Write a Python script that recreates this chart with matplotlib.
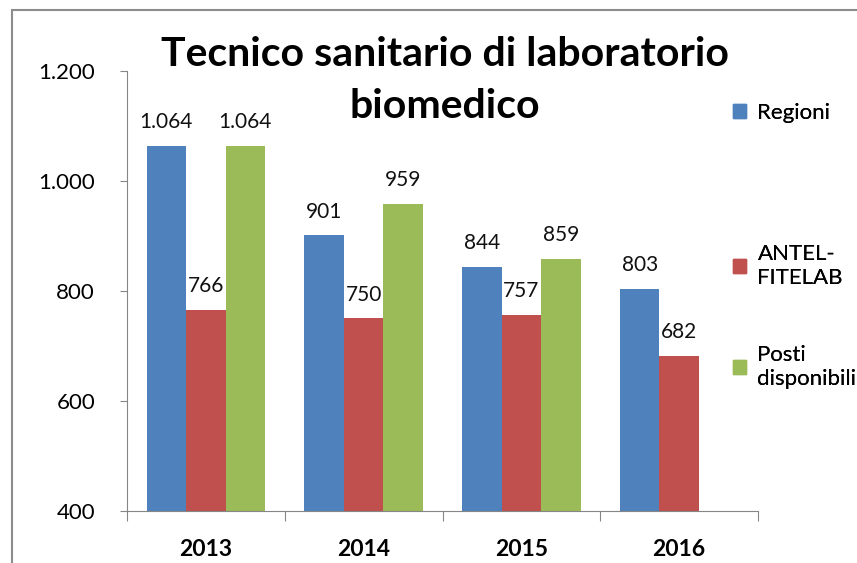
import matplotlib
matplotlib.use("Agg")
import matplotlib.pyplot as plt
from matplotlib.patches import Patch, Rectangle
import numpy as np

plt.rcParams['font.family'] = ['Lato', 'DejaVu Sans']

years = ["2013", "2014", "2015", "2016"]
regioni = [1064, 901, 844, 803]
antel = [766, 750, 757, 682]
posti = [1064, 959, 859, None]

series = [("Regioni", regioni, "#4F81BD"),
          ("ANTEL-\nFITELAB", antel, "#C0504D"),
          ("Posti\ndisponibili", posti, "#9BBB59")]


def it_fmt(v):
    return "{:,}".format(int(v)).replace(",", ".")


fig = plt.figure(figsize=(8.57, 5.63), dpi=100)
ax = fig.add_axes([127 / 857, 1 - 511 / 563, 631 / 857, 440 / 563])

x = np.arange(len(years))
w = 0.25
for k, (name, vals, col) in enumerate(series):
    xs = [xi + (k - 1) * w for xi, v in zip(x, vals) if v is not None]
    vs = [v for v in vals if v is not None]
    bars = ax.bar(xs, vs, width=w, color=col, bottom=0, zorder=2)
    for b, v in zip(bars, vs):
        ax.annotate(it_fmt(v), (b.get_x() + b.get_width() / 2, v),
                    xytext=(0, 10), textcoords="offset points",
                    ha="center", va="bottom", fontsize=15, color="#111111")

ax.set_ylim(400, 1200)
ax.set_xlim(-0.5, 3.5)
ax.set_yticks([400, 600, 800, 1000, 1200])
ax.set_yticklabels([it_fmt(t) for t in [400, 600, 800, 1000, 1200]],
                   fontsize=16)
ax.set_xticks(np.arange(-0.5, 4, 1))
ax.set_xticklabels([])
ax.set_xticks(x, minor=True)
ax.set_xticklabels(years, minor=True, fontsize=16.5, fontweight="bold")
ax.tick_params(axis="x", which="minor", length=0, pad=20)
ax.tick_params(axis="x", which="major", length=7, color="#868686",
               direction="out")
ax.tick_params(axis="y", length=5, color="#868686", pad=18)

for s in ["top", "right"]:
    ax.spines[s].set_visible(False)
for s in ["left", "bottom"]:
    ax.spines[s].set_color("#868686")

fig.text(445 / 857, 1 - 80 / 563, "Tecnico sanitario di laboratorio\nbiomedico",
         ha="center", va="center", fontsize=29.5, fontweight="bold",
         linespacing=1.5)

# legend entries placed separately (Excel spacing is uneven)
legend_pos = [(0.832, 1 - 113 / 563), (0.832, 1 - 266 / 563),
              (0.832, 1 - 367 / 563)]
for (name, vals, col), (lx, ly) in zip(series, legend_pos):
    leg = fig.legend(handles=[Patch(color=col)], labels=[name],
                     loc="center left", bbox_to_anchor=(lx, ly),
                     frameon=False, fontsize=16, handlelength=0.6,
                     handleheight=0.6, handletextpad=0.5)
    fig.add_artist(leg)

fig.patches.append(Rectangle((12 / 857, -0.1), 1.2, 1.1 - 10 / 563,
                             transform=fig.transFigure, fill=False,
                             edgecolor="#8c8c8c", linewidth=1.5))

fig.savefig("out.png", dpi=100)
